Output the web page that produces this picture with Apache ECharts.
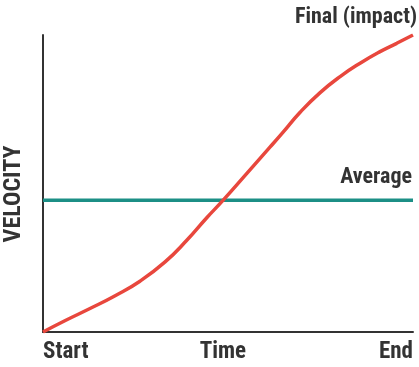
<!DOCTYPE html>
<html><head><meta charset="utf-8">
<script src="https://cdn.jsdelivr.net/npm/echarts@6/dist/echarts.min.js"></script>
<style>html,body{margin:0;padding:0;background:#fff}#c{width:419px;height:367px}</style>
</head><body><div id="c"></div>
<script>
// Data (x: time 0..100, y: velocity 0..100)
const timeValues = [0, 5.9, 12.7, 19.5, 26.2, 33.0, 38.8, 44.2, 48.7, 55.1, 61.4, 64.9, 69.5, 74.9, 80.3, 85.7, 91.1, 95.6, 100];
const velocityValues = [0, 3.8, 7.9, 12.2, 17.1, 23.6, 30.8, 38.4, 44.4, 53.4, 62.3, 67.3, 74.0, 80.6, 86.0, 90.5, 94.4, 97.2, 100];
const averageValue = 44.4;
const tickPositions = [0, 48.6, 100];
const tickLabels = ['Start', 'Time', 'End'];
const axisTitle = 'VELOCITY';
const finalLabel = 'Final (impact)';
const averageLabel = 'Average';

const FONT = "'Roboto Condensed', 'Liberation Sans', sans-serif";
const chart = echarts.init(document.getElementById('c'), null, {renderer: 'canvas'});
const curve = timeValues.map((t, i) => [t, velocityValues[i]]);
chart.setOption({
  animation: false,
  grid: {left: 43, right: 6, top: 35, bottom: 35, outerBoundsMode: 'none', containLabel: false},
  xAxis: {
    type: 'value', min: 0, max: 100,
    axisLine: {show: true, onZero: false, lineStyle: {color: '#333', width: 2}},
    axisTick: {show: false}, splitLine: {show: false},
    axisLabel: {
      customValues: tickPositions,
      formatter: v => tickLabels[tickPositions.indexOf(v)] || '',
      alignMinLabel: 'left', alignMaxLabel: 'right',
      color: '#333', fontFamily: FONT, fontWeight: 'bold', fontSize: 23, margin: 9
    }
  },
  yAxis: {
    type: 'value', min: 0, max: 100,
    axisLine: {show: true, lineStyle: {color: '#333', width: 2}},
    axisTick: {show: false}, splitLine: {show: false}, axisLabel: {show: false},
    name: axisTitle, nameLocation: 'middle', nameRotate: 90, nameGap: 17,
    nameTextStyle: {color: '#333', fontFamily: FONT, fontWeight: 'bold', fontSize: 24, padding: [0, 21, 0, 0]}
  },
  series: [
    {type: 'line', data: [[0, averageValue], [100, averageValue]], symbol: 'none',
     lineStyle: {color: '#1c8f86', width: 3.5}, z: 2},
    {type: 'line', data: curve, smooth: 0.5, symbol: 'none',
     lineStyle: {color: '#e8473d', width: 3.5}, z: 3}
  ]
});
const pEnd = chart.convertToPixel({gridIndex: 0}, [100, 100]);
const pAvg = chart.convertToPixel({gridIndex: 0}, [100, averageValue]);
chart.setOption({
  graphic: [
    {type: 'text', x: pEnd[0] + 4, y: pEnd[1] - 7, style: {text: finalLabel, align: 'right', verticalAlign: 'bottom',
      fill: '#333', font: 'bold 22px ' + FONT}},
    {type: 'text', x: pAvg[0] - 1, y: pAvg[1] - 12, style: {text: averageLabel, align: 'right', verticalAlign: 'bottom',
      fill: '#333', font: 'bold 22px ' + FONT}}
  ]
});
</script></body></html>
